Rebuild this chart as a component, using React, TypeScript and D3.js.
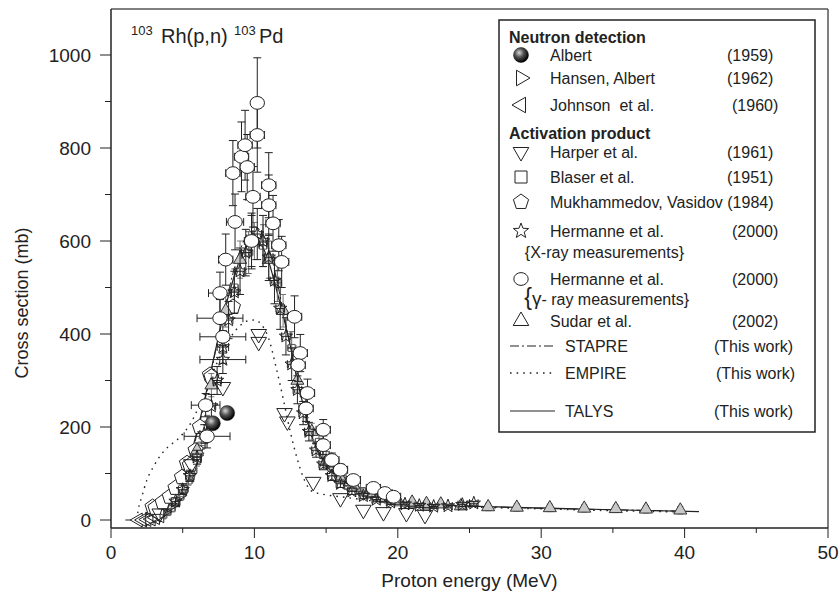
import React from 'react';
import * as d3 from 'd3';

// ---------- axis ticks ----------
const xTicks = [0, 10, 20, 30, 40, 50];
const xMinor = [5, 15, 25, 35, 45];
const yTicks = [0, 200, 400, 600, 800, 1000];
const yMinor = [100, 300, 500, 700, 900];

// ---------- experimental data ----------
// [E (MeV), sigma (mb)]
const albert = [[7.1, 208], [8.1, 230]];
const hansen = [[2.7, 2], [3.2, 8], [3.7, 18], [4.2, 32], [4.7, 52]];
const johnson = [[1.9, 0], [2.2, 0], [2.5, 1], [2.8, 2], [3.1, 5], [3.4, 9]];
const harper = [
  [3.4, 14], [5.6, 120], [7.8, 286], [10.3, 400], [10.3, 383], [12.1, 230], [12.3, 212],
  [14.1, 82], [16.0, 47], [17.6, 22], [19.0, 17], [20.6, 15], [21.9, 11],
];
// [E, sigma, dE, dSigma]
const blaser = [
  [3.3, 5, 0.3, 3], [3.6, 10, 0.3, 4], [3.9, 17, 0.3, 5], [4.2, 25, 0.3, 6], [4.5, 36, 0.3, 7],
  [4.8, 50, 0.3, 8], [5.1, 66, 0.3, 9], [5.4, 85, 0.3, 10], [5.7, 107, 0.3, 12], [6.0, 130, 0.3, 14],
  [6.3, 160, 0.3, 16], [6.7, 205, 0.3, 20], [8.6, 500, 0.3, 40], [9.6, 575, 0.3, 45], [10.6, 590, 0.3, 45],
  [11.6, 510, 0.3, 40], [12.6, 370, 0.3, 35], [13.6, 245, 0.3, 25], [14.5, 168, 0.4, 18], [15.0, 140, 0.4, 15],
  [15.5, 115, 0.4, 12], [16.0, 96, 0.4, 10], [16.5, 82, 0.4, 9], [17.0, 71, 0.4, 8], [17.5, 62, 0.4, 7],
  [18.0, 55, 0.4, 7], [18.5, 49, 0.4, 6], [19.0, 45, 0.4, 6], [19.5, 41, 0.4, 5], [20.0, 38, 0.4, 5],
  [21.0, 34, 0.4, 5], [22.0, 31, 0.4, 5],
];
const mukhammedov = [
  [2.9, 28], [3.1, 26], [3.6, 38], [4.1, 50], [4.5, 69], [4.95, 92], [5.3, 122], [5.5, 118],
  [5.9, 150], [6.2, 200], [6.9, 312], [7.0, 308], [8.5, 458],
];
const hermanneX = [
  [4.5, 40, 0.3, 8], [5.0, 65, 0.3, 10], [5.5, 95, 0.3, 12], [6.0, 135, 0.3, 15], [6.5, 185, 0.3, 20],
  [7.0, 245, 0.3, 25], [7.4, 300, 0.3, 30], [7.8, 345, 1.6, 30], [7.8, 372, 0.4, 35], [8.2, 430, 0.3, 40],
  [8.6, 490, 0.3, 45], [9.0, 535, 0.3, 50], [9.4, 575, 0.3, 50], [9.8, 600, 0.3, 55], [10.2, 615, 0.3, 55],
  [10.6, 600, 0.3, 55], [11.0, 565, 0.3, 50], [11.4, 515, 0.3, 50], [11.8, 455, 0.3, 45], [12.2, 395, 0.3, 40],
  [12.6, 335, 0.3, 35], [13.0, 280, 0.3, 30], [13.4, 230, 0.3, 25], [13.8, 190, 0.3, 20], [14.3, 150, 0.3, 15],
  [14.8, 120, 0.3, 12], [15.4, 95, 0.3, 10], [16.0, 78, 0.3, 8], [16.8, 62, 0.3, 7], [17.6, 52, 0.3, 6],
  [18.5, 44, 0.3, 5], [19.5, 38, 0.3, 5], [20.5, 34, 0.3, 4], [21.5, 31, 0.3, 4], [22.5, 29, 0.3, 4],
  [23.5, 30, 0.3, 4], [24.5, 33, 0.3, 4], [25.3, 36, 0.3, 4],
];
const hermanneG = [
  [6.7, 180, 1.6, 25], [6.6, 247, 1.0, 25], [7.6, 434, 1.6, 40], [7.6, 488, 0.8, 45], [7.8, 394, 1.6, 35],
  [8.0, 560, 0.5, 55], [8.5, 746, 0.5, 70], [8.65, 641, 0.6, 60], [9.1, 781, 0.5, 75], [9.35, 806, 0.5, 75],
  [9.5, 759, 0.5, 70], [9.8, 600, 0.5, 60], [9.9, 695, 0.5, 65], [10.2, 897, 0.4, 97], [10.2, 828, 0.5, 80],
  [11.0, 720, 0.5, 70], [11.0, 677, 0.5, 65], [11.3, 638, 0.5, 60], [11.7, 591, 0.5, 55], [11.9, 555, 0.5, 55],
  [12.8, 437, 0.5, 45], [13.2, 359, 0.5, 40], [13.05, 333, 0.5, 35], [13.7, 273, 0.5, 30], [13.6, 240, 0.5, 28],
  [14.8, 194, 0.5, 22], [14.8, 161, 0.5, 20], [15.4, 129, 0.5, 15], [16.0, 108, 0.5, 12], [16.9, 86, 0.5, 10],
  [18.3, 69, 0.5, 8], [19.1, 58, 0.5, 7], [19.7, 50, 0.5, 6],
];
const sudar = [
  [6.0, 150, 0, 15], [7.0, 290, 0, 25], [8.0, 450, 0, 35], [9.0, 560, 0, 40], [10.0, 600, 0, 40],
  [11.0, 560, 0, 40], [12.0, 450, 0, 35], [13.0, 300, 0, 25], [14.0, 190, 0, 18], [15.0, 125, 0, 12],
  [16.0, 90, 0, 9], [17.0, 70, 0, 8], [18.0, 58, 0, 7], [19.0, 48, 0, 6], [20.0, 42, 0, 6], [21.0, 38, 0, 6],
  [22.0, 35, 0, 6], [23.0, 34, 0, 6], [24.4, 30, 0, 8], [26.3, 28, 0, 8], [28.3, 27, 0, 8], [30.6, 26, 0, 8],
  [33.0, 25, 0, 8], [35.2, 24, 0, 8], [37.3, 23, 0, 8], [39.7, 21, 0, 8],
];

// ---------- model calculations ----------
const stapre = [
  [2.2, 0], [3, 4], [3.5, 12], [4, 27], [4.5, 50], [5, 85], [5.5, 130], [6, 185], [6.5, 250], [7, 320],
  [7.5, 395], [8, 465], [8.5, 530], [9, 580], [9.5, 615], [10, 630], [10.5, 620], [11, 585], [11.5, 525],
  [12, 450], [12.5, 375], [13, 300], [13.5, 235], [14, 180], [14.5, 140], [15, 112], [16, 82], [17, 63],
  [18, 52], [19, 45], [20, 40], [22, 34], [25, 30], [30, 25], [35, 22], [40, 19],
];
const empire = [
  [1.8, 0], [1.9, 22], [2.15, 50], [2.5, 86], [2.95, 114], [3.55, 143], [4.0, 158], [4.6, 172], [5.0, 185],
  [5.5, 205], [6.0, 235], [6.5, 270], [7.0, 310], [7.5, 345], [8.0, 375], [8.5, 400], [9.0, 418], [9.5, 428],
  [10.0, 430], [10.5, 420], [11.0, 390], [11.5, 330], [12.0, 262], [12.5, 190], [13.0, 130], [13.5, 85],
  [14.0, 62], [14.5, 57], [15.0, 54], [16, 50], [17, 46], [18, 42], [20, 36], [22, 32], [25, 28], [30, 24],
  [35, 20], [40, 17],
];
const talys = [
  [1.0, 0], [2.0, 0], [2.5, 1], [3.0, 5], [3.5, 14], [4.0, 30], [4.5, 55], [5.0, 90], [5.5, 135], [6.0, 190],
  [6.5, 255], [7.0, 325], [7.5, 395], [8.0, 460], [8.5, 515], [9.0, 560], [9.5, 590], [10.0, 600], [10.5, 590],
  [11.0, 555], [11.5, 500], [12.0, 440], [12.5, 375], [13.0, 300], [13.5, 235], [14.0, 180], [14.5, 145],
  [15.0, 118], [15.5, 100], [16.0, 88], [17.0, 68], [18.0, 55], [19.0, 46], [20.0, 40], [22.0, 34], [25.0, 30],
  [30.0, 26], [35.0, 22], [41.0, 18],
];

// ---------- layout ----------
const W = 840;
const H = 601;
const FONT = "'Liberation Sans', Arial, Helvetica, sans-serif";
const INK = '#222';

const x = d3.scaleLinear().domain([0, 50]).range([111, 828]);
const y = d3.scaleLinear().domain([0, 1000]).range([520, 55]);
const Y_AXIS = 528;
const TOP = 9;

function polygon(n: number, r: number, rot = -90) {
  const pts = d3.range(n).map((i) => {
    const a = ((rot + (360 / n) * i) * Math.PI) / 180;
    return [r * Math.cos(a), r * Math.sin(a)];
  });
  return 'M' + pts.map((p) => p[0].toFixed(2) + ',' + p[1].toFixed(2)).join('L') + 'Z';
}
function star(r: number) {
  const pts = d3.range(10).map((i) => {
    const a = ((-90 + 36 * i) * Math.PI) / 180;
    const rr = i % 2 === 0 ? r : r * 0.42;
    return [rr * Math.cos(a), rr * Math.sin(a)];
  });
  return 'M' + pts.map((p) => p[0].toFixed(2) + ',' + p[1].toFixed(2)).join('L') + 'Z';
}
function tri(s: number, dir: 'up' | 'down' | 'left' | 'right') {
  const rot = { up: -90, down: 90, left: 180, right: 0 }[dir];
  return polygon(3, s, rot);
}

type Shape = 'up' | 'down' | 'left' | 'right' | 'square' | 'pent' | 'star' | 'circle' | 'ball';

function Marker({ shape, cx, cy, size = 8, fill = '#fff', stroke = INK, sw = 1 }: any) {
  const t = `translate(${cx},${cy})`;
  if (shape === 'circle')
    return <ellipse cx={cx} cy={cy} rx={size * 0.9} ry={size * 0.8} fill={fill} stroke={stroke} strokeWidth={sw} />;
  if (shape === 'ball') return <circle cx={cx} cy={cy} r={size} fill="url(#ball)" stroke="#111" strokeWidth={0.5} />;
  let d = '';
  if (shape === 'square') d = `M${-size * 0.5},${-size * 0.5}h${size}v${size}h${-size}Z`;
  else if (shape === 'pent') d = polygon(5, size);
  else if (shape === 'star') d = star(size);
  else d = tri(size, shape);
  return <path d={d} transform={t} fill={fill} stroke={stroke} strokeWidth={sw} />;
}

function ErrBars({ data, color = INK, cap = 4 }: any) {
  return (
    <g stroke={color} strokeWidth={1} fill="none">
      {data.map((p: number[], i: number) => {
        const [e, s, de, ds] = p;
        const cx = x(e);
        const cy = y(s);
        const parts: any[] = [];
        if (de > 0) {
          const x0 = x(e - de);
          const x1 = x(e + de);
          parts.push(<line key="h" x1={x0} x2={x1} y1={cy} y2={cy} />);
          parts.push(<line key="hc0" x1={x0} x2={x0} y1={cy - cap} y2={cy + cap} />);
          parts.push(<line key="hc1" x1={x1} x2={x1} y1={cy - cap} y2={cy + cap} />);
        }
        if (ds > 0) {
          const y0 = y(s - ds);
          const y1 = y(s + ds);
          parts.push(<line key="v" x1={cx} x2={cx} y1={y0} y2={y1} />);
          parts.push(<line key="vc0" x1={cx - cap} x2={cx + cap} y1={y0} y2={y0} />);
          parts.push(<line key="vc1" x1={cx - cap} x2={cx + cap} y1={y1} y2={y1} />);
        }
        return <g key={i}>{parts}</g>;
      })}
    </g>
  );
}

function Points({ data, shape, size, fill, stroke = INK }: any) {
  return (
    <g>
      {data.map((p: number[], i: number) => (
        <Marker key={i} shape={shape} cx={x(p[0])} cy={y(p[1])} size={size} fill={fill} stroke={stroke} />
      ))}
    </g>
  );
}

const line = d3
  .line<number[]>()
  .x((d) => x(d[0]))
  .y((d) => y(d[1]))
  .curve(d3.curveMonotoneX);

// legend rows
const LX = 499, LR = 815, LT = 20, LB = 432;
const SYM_X = 521;
const TXT_X = 550;

const legendSymbols: { shape: Shape; label: string; year: string; cy: number; yearX: number }[] = [
  { shape: 'ball', label: 'Albert', year: '(1959)', cy: 55, yearX: 727 },
  { shape: 'right', label: 'Hansen, Albert', year: '(1962)', cy: 78, yearX: 727 },
  { shape: 'left', label: 'Johnson\u00a0\u00a0et al.', year: '(1960)', cy: 105, yearX: 732 },
  { shape: 'down', label: 'Harper et al.', year: '(1961)', cy: 152, yearX: 727 },
  { shape: 'square', label: 'Blaser et al.', year: '(1951)', cy: 177, yearX: 727 },
  { shape: 'pent', label: 'Mukhammedov, Vasidov (1984)', year: '', cy: 202, yearX: 727 },
  { shape: 'star', label: 'Hermanne et al.', year: '(2000)', cy: 231, yearX: 732 },
  { shape: 'circle', label: 'Hermanne et al.', year: '(2000)', cy: 279, yearX: 732 },
  { shape: 'up', label: 'Sudar et al.', year: '(2002)', cy: 321, yearX: 732 },
];
const legendLines = [
  { label: 'STAPRE', dash: '9,3,2,3', cy: 346, workX: 714 },
  { label: 'EMPIRE', dash: '1.6,5', cy: 373, workX: 716 },
  { label: 'TALYS', dash: '', cy: 411, workX: 714 },
];

function legendSize(shape: Shape) {
  if (shape === 'ball') return 7.5;
  if (shape === 'square') return 12;
  if (shape === 'circle') return 8;
  if (shape === 'pent') return 8;
  if (shape === 'star') return 8;
  return 9;
}

export default function App() {
  const fs = 16;
  const base = (c: number) => c + 5.5;
  return (
    <svg width={W} height={H} style={{ position: 'absolute', left: 0, top: 0, background: '#fff' }} fontFamily={FONT}>
      <defs>
        <radialGradient id="ball" cx="38%" cy="35%" r="65%">
          <stop offset="0%" stopColor="#d8d8d8" />
          <stop offset="45%" stopColor="#555" />
          <stop offset="100%" stopColor="#000" />
        </radialGradient>
      </defs>
      <rect x={0} y={0} width={W} height={H} fill="#fff" />

      {/* frame */}
      <line x1={111} x2={828} y1={TOP} y2={TOP} stroke="#555" strokeWidth={1.5} />
      <line x1={828} x2={828} y1={TOP} y2={Y_AXIS} stroke="#555" strokeWidth={1.5} />
      <line x1={111} x2={111} y1={TOP} y2={Y_AXIS} stroke={INK} strokeWidth={1.5} />
      <line x1={111} x2={828} y1={Y_AXIS} y2={Y_AXIS} stroke={INK} strokeWidth={1.5} />

      {/* y ticks */}
      {yTicks.map((t) => (
        <g key={'yt' + t}>
          <line x1={100} x2={111} y1={y(t)} y2={y(t)} stroke={INK} strokeWidth={1} />
          <text x={91} y={y(t) + 7} textAnchor="end" fontSize={19} fill={INK}>
            {t}
          </text>
        </g>
      ))}
      {yMinor.map((t) => (
        <line key={'ym' + t} x1={105} x2={111} y1={y(t)} y2={y(t)} stroke={INK} strokeWidth={1} />
      ))}
      {/* x ticks */}
      {xTicks.map((t) => (
        <g key={'xt' + t}>
          <line x1={x(t)} x2={x(t)} y1={Y_AXIS} y2={Y_AXIS + 10} stroke={INK} strokeWidth={1} />
          <text x={x(t)} y={Y_AXIS + 31} textAnchor="middle" fontSize={19} fill={INK}>
            {t}
          </text>
        </g>
      ))}
      {xMinor.map((t) => (
        <line key={'xm' + t} x1={x(t)} x2={x(t)} y1={Y_AXIS} y2={Y_AXIS + 5} stroke={INK} strokeWidth={1} />
      ))}

      {/* axis titles */}
      <text x={(111 + 828) / 2} y={587} textAnchor="middle" fontSize={19} fill={INK}>
        Proton energy (MeV)
      </text>
      <text transform="translate(28,303) rotate(-90)" textAnchor="middle" fontSize={18} fill={INK}>
        Cross section (mb)
      </text>

      {/* reaction label */}
      <text y={43} fill={INK}>
        <tspan x={131} dy={-8} fontSize={13}>103</tspan>
        <tspan x={161} dy={8} fontSize={20}>Rh(p,n)</tspan>
        <tspan x={234} dy={-8} fontSize={13}>103</tspan>
        <tspan x={259} dy={8} fontSize={20}>Pd</tspan>
      </text>

      {/* model curves */}
      <path d={line(empire) || ''} fill="none" stroke={INK} strokeWidth={1.4} strokeDasharray="1.6,5" />
      <path d={line(stapre) || ''} fill="none" stroke={INK} strokeWidth={1} strokeDasharray="9,3,2,3" />
      <path d={line(talys) || ''} fill="none" stroke={INK} strokeWidth={1.2} />

      {/* experimental data */}
      <ErrBars data={blaser} color="#666" cap={3} />
      <Points data={blaser} shape="square" size={7} fill="none" stroke="#555" />
      <Points data={johnson} shape="left" size={8} fill="#fff" />
      <Points data={hansen} shape="right" size={8} fill="none" />
      <Points data={mukhammedov} shape="pent" size={8} fill="#fff" />
      <ErrBars data={sudar} color="#777" cap={3} />
      <Points data={sudar} shape="up" size={7.5} fill="#c8c8c8" stroke="#333" />
      <Points data={harper} shape="down" size={9} fill="none" />
      <ErrBars data={hermanneX} cap={4} />
      <Points data={hermanneX} shape="star" size={7} fill="none" />
      <ErrBars data={hermanneG} cap={4} />
      <Points data={hermanneG} shape="circle" size={8} fill="#fff" />
      <Points data={albert} shape="ball" size={7.5} />

      {/* legend */}
      <rect x={LX} y={LT} width={LR - LX} height={LB - LT} fill="#fff" stroke={INK} strokeWidth={1.5} />
      <text x={509} y={base(37)} fontSize={16} fontWeight="bold" fill={INK}>
        Neutron detection
      </text>
      <text x={509} y={base(133)} fontSize={16} fontWeight="bold" fill={INK}>
        Activation product
      </text>
      {legendSymbols.map((r, i) => (
        <g key={'ls' + i}>
          <Marker shape={r.shape} cx={SYM_X} cy={r.cy} size={legendSize(r.shape)} fill={r.shape === 'ball' ? undefined : '#fff'} />
          <text x={TXT_X} y={base(r.cy)} fontSize={fs} fill={INK}>
            {r.label}
          </text>
          {r.year && (
            <text x={r.yearX} y={base(r.cy)} fontSize={fs} fill={INK}>
              {r.year}
            </text>
          )}
        </g>
      ))}
      <text x={684} y={base(252)} textAnchor="end" fontSize={fs} fill={INK}>
        {'{X-ray measurements}'}
      </text>
      <text x={689} y={base(299)} textAnchor="end" fill={INK}>
        <tspan fontSize={23}>{'{'}</tspan>
        <tspan fontSize={19}>{'γ'}</tspan>
        <tspan fontSize={fs}>{'- ray measurements}'}</tspan>
      </text>
      {legendLines.map((r) => (
        <g key={r.label}>
          <line x1={510} x2={555} y1={r.cy} y2={r.cy} stroke={INK} strokeWidth={r.dash === '1.6,5' ? 1.4 : 1.2} strokeDasharray={r.dash || undefined} />
          <text x={565} y={base(r.cy)} fontSize={fs} fill={INK}>
            {r.label}
          </text>
          <text x={r.workX} y={base(r.cy)} fontSize={fs} fill={INK}>
            (This work)
          </text>
        </g>
      ))}
    </svg>
  );
}
